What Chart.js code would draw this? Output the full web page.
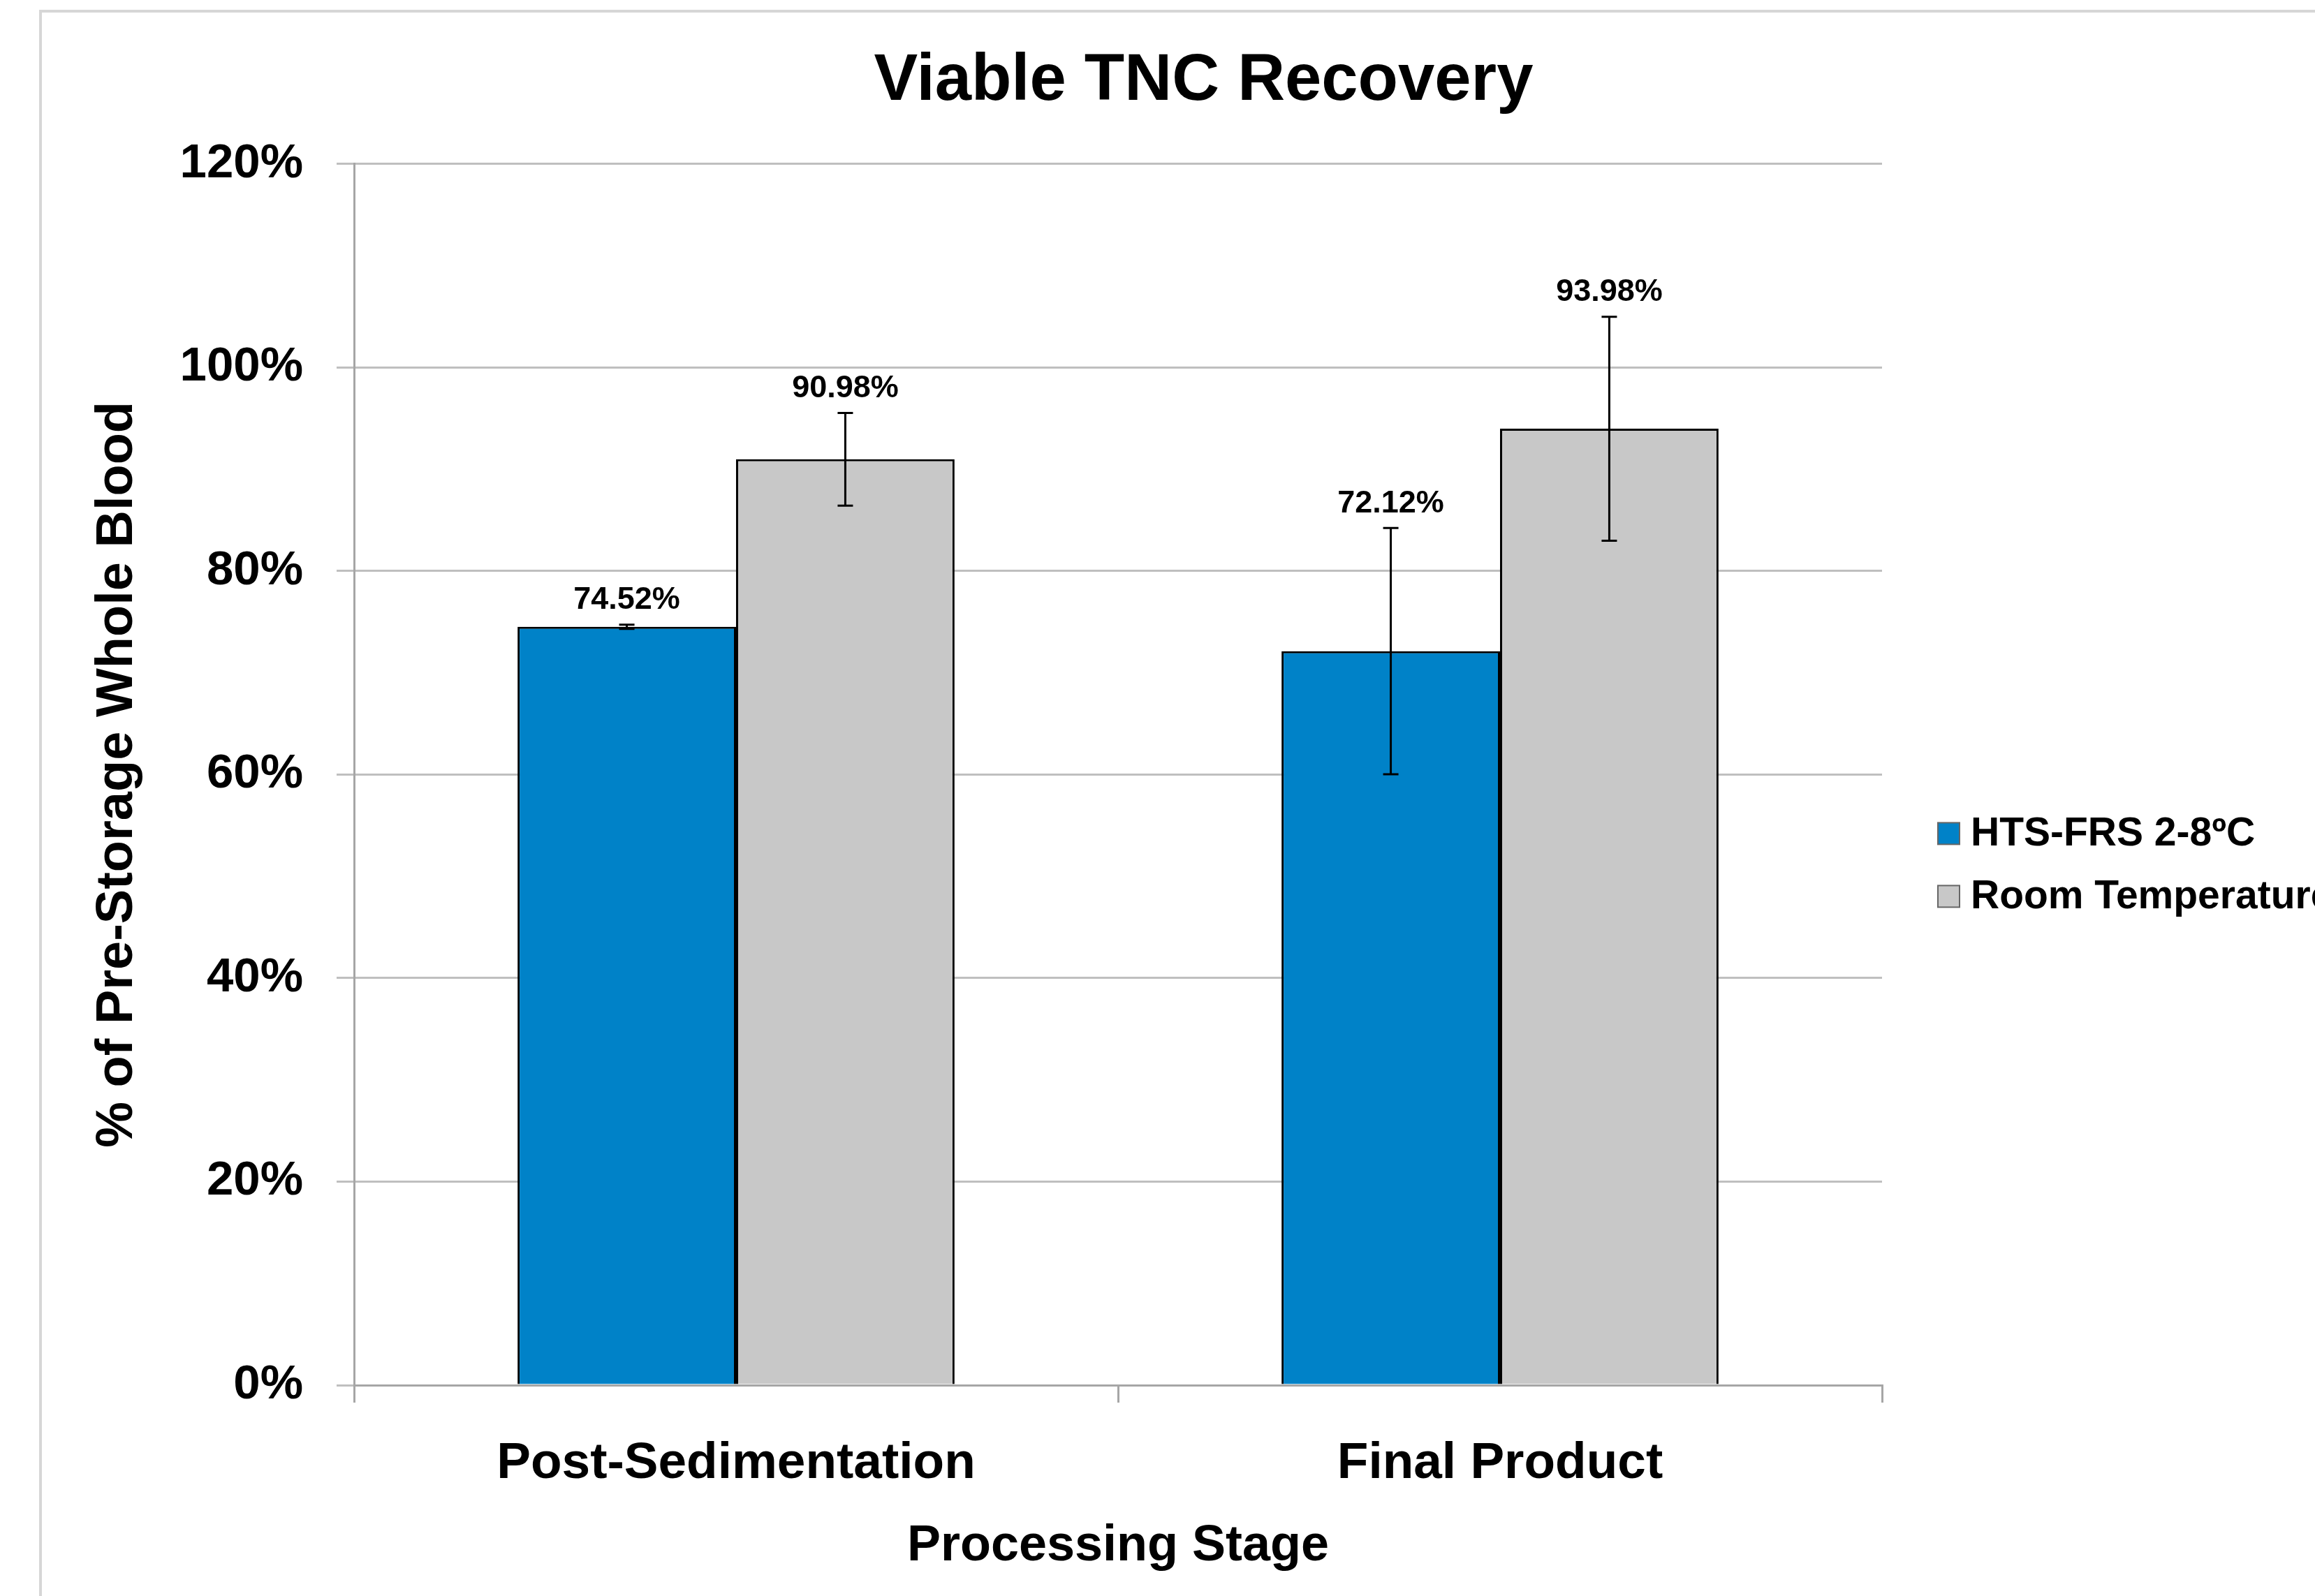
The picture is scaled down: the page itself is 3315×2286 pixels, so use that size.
<!DOCTYPE html>
<html><head><meta charset="utf-8">
<script src="https://cdn.jsdelivr.net/npm/chart.js@4"></script>
<style>
html,body{margin:0;padding:0;background:#fff;width:3315px;height:2286px;overflow:hidden}
#frame{position:absolute;left:56px;top:14px;width:4000px;height:4000px;border-left:4px solid #d6d6d6;border-top:4px solid #d6d6d6}
#wrap{position:absolute;left:0;top:0;width:3315px;height:2286px}
</style></head><body>
<div id="frame"></div>
<div id="wrap"><canvas id="c" width="3315" height="2286"></canvas></div>
<script>
// ---- data ----
const categories = ['Post-Sedimentation', 'Final Product'];
const seriesNames = ['HTS-FRS 2-8ºC', 'Room Temperature'];
const htsValues = [74.52, 72.12];
const htsErrors = [0.2, 12.1];
const roomValues = [90.98, 93.98];
const roomErrors = [4.55, 11.0];
const yTicks = [0, 20, 40, 60, 80, 100, 120];

const seriesColors = ['#0082C8', '#C8C8C8'];
const errorSets = [htsErrors, roomErrors];
const FONT = "'Liberation Sans', Arial, sans-serif";
Chart.defaults.font.family = FONT;
Chart.defaults.color = '#000';

const errorBarPlugin = {
  id: 'errorBars',
  afterDatasetsDraw(chart) {
    const ctx = chart.ctx, y = chart.scales.y;
    ctx.save();
    ctx.strokeStyle = '#000';
    ctx.lineWidth = 3;
    chart.data.datasets.forEach((ds, i) => {
      const meta = chart.getDatasetMeta(i);
      meta.data.forEach((el, j) => {
        const v = ds.data[j], e = errorSets[i][j];
        const top = y.getPixelForValue(v + e), bot = y.getPixelForValue(v - e);
        ctx.beginPath();
        ctx.moveTo(el.x, top); ctx.lineTo(el.x, bot);
        ctx.moveTo(el.x - 11, top); ctx.lineTo(el.x + 11, top);
        ctx.moveTo(el.x - 11, bot); ctx.lineTo(el.x + 11, bot);
        ctx.stroke();
      });
    });
    ctx.restore();
  },
  afterDraw(chart) {
    const ctx = chart.ctx, y = chart.scales.y;
    ctx.save();
    ctx.fillStyle = '#000';
    ctx.font = 'bold 45px ' + FONT;
    ctx.textAlign = 'center';
    ctx.textBaseline = 'middle';
    chart.data.datasets.forEach((ds, i) => {
      const meta = chart.getDatasetMeta(i);
      meta.data.forEach((el, j) => {
        const v = ds.data[j], e = errorSets[i][j];
        ctx.fillText(v.toFixed(2) + '%', el.x, y.getPixelForValue(v + e) - 35);
      });
    });
    // legend
    const ca = chart.chartArea;
    const x0 = ca.right + 80;
    const cy = (ca.top + ca.bottom) / 2 + 129;
    const n = chart.data.datasets.length;
    ctx.font = 'bold 57px ' + FONT;
    ctx.textAlign = 'left';
    chart.data.datasets.forEach((ds, i) => {
      const yc = cy + (i - (n - 1) / 2) * 90;
      ctx.fillStyle = ds.backgroundColor;
      ctx.fillRect(x0, yc - 15, 31, 31);
      ctx.strokeStyle = '#666';
      ctx.lineWidth = 2;
      ctx.strokeRect(x0, yc - 15, 31, 31);
      ctx.fillStyle = '#000';
      ctx.fillText(ds.label, x0 + 47, yc + 2);
    });
    ctx.restore();
  }
};

new Chart(document.getElementById('c'), {
  type: 'bar',
  data: {
    labels: categories,
    datasets: [
      { label: seriesNames[0], data: htsValues, backgroundColor: seriesColors[0], borderColor: '#000', borderWidth: 3 },
      { label: seriesNames[1], data: roomValues, backgroundColor: seriesColors[1], borderColor: '#000', borderWidth: 3 }
    ]
  },
  options: {
    responsive: false,
    devicePixelRatio: 1,
    animation: false,
    datasets: { bar: { categoryPercentage: 0.572, barPercentage: 1.0 } },
    layout: { padding: { left: 132, right: 0, top: 0, bottom: 0 } },
    plugins: {
      legend: { display: false },
      tooltip: { enabled: false },
      title: {
        display: true, text: 'Viable TNC Recovery', color: '#000',
        font: { size: 94, weight: 'bold', lineHeight: 1.2 },
        padding: { top: 61, bottom: 61 }
      }
    },
    scales: {
      x: {
        grid: { display: true, drawOnChartArea: false, drawTicks: true, tickLength: 25, color: '#A6A6A6', lineWidth: 3, offset: true },
        border: { display: true, color: '#A6A6A6', width: 3 },
        ticks: { font: { size: 73, weight: 'bold' }, color: '#000', padding: 44, maxRotation: 0 },
        title: { display: true, text: 'Processing Stage', color: '#000', font: { size: 72, weight: 'bold', lineHeight: 1.2 }, padding: { top: 0, bottom: 28 } },
        afterFit(s) { s.height = 302; }
      },
      y: {
        min: 0, max: 120,
        afterBuildTicks(s) { s.ticks = yTicks.map(v => ({ value: v })); },
        grid: { color: '#BFBFBF', lineWidth: 3, tickLength: 25, drawTicks: true },
        border: { display: true, color: '#A6A6A6', width: 3 },
        ticks: { font: { size: 69, weight: 'bold' }, color: '#000', padding: 48, callback: v => v + '%' },
        title: { display: true, text: '% of Pre-Storage Whole Blood', color: '#000', font: { size: 74, weight: 'bold', lineHeight: 1 }, padding: { top: 0, bottom: 0 } },
        afterFit(s) { s.width = 375; }
      },
      yRight: {
        position: 'right', display: true,
        grid: { display: false }, ticks: { display: false }, border: { display: false },
        afterFit(s) { s.width = 620; }
      }
    }
  },
  plugins: [errorBarPlugin]
});
</script>
</body></html>
